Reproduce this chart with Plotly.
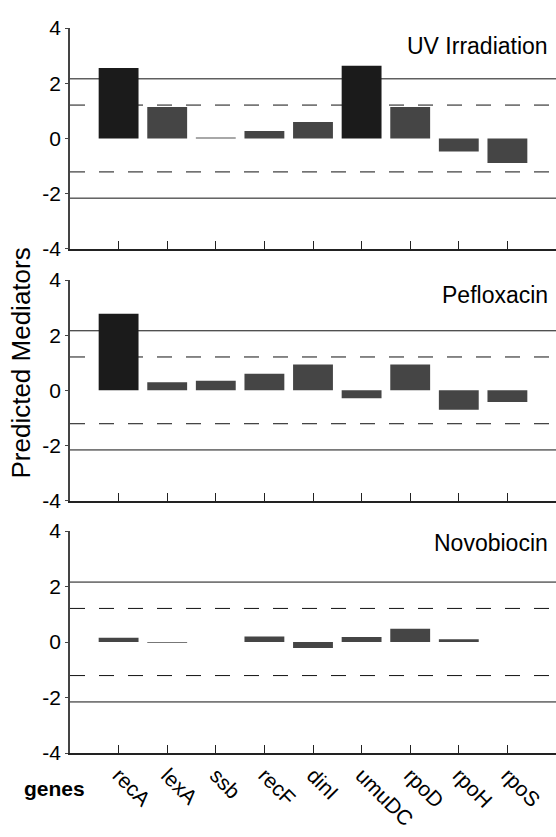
import plotly.graph_objects as go

# ---------------- data ----------------
genes = ["recA", "lexA", "ssb", "recF", "dinI", "umuDC", "rpoD", "rpoH", "rpoS"]
panel_titles = ["UV Irradiation", "Pefloxacin", "Novobiocin"]
uv_values = [2.55, 1.14, 0.04, 0.27, 0.6, 2.63, 1.14, -0.47, -0.89]
pefloxacin_values = [2.78, 0.29, 0.35, 0.6, 0.94, -0.29, 0.94, -0.70, -0.42]
novobiocin_values = [0.15, -0.03, 0.0, 0.2, -0.22, 0.18, 0.48, 0.1, 0.0]
solid_threshold = 2.16
dashed_threshold = 1.21
y_ticks = [-4, -2, 0, 2, 4]
y_title = "Predicted Mediators"
x_title = "genes"

# ---------------- styles ----------------
DARK = "#1b1b1b"
MED = "#454545"
LIGHT = "#a8a8a8"
uv_colors = [DARK, MED, LIGHT, MED, MED, DARK, MED, MED, MED]
pef_colors = [DARK] + [MED] * 8
nov_colors = [MED, "#777777", MED, MED, MED, MED, MED, MED, MED]

FONT = "Liberation Sans, Arial, sans-serif"
series = [uv_values, pefloxacin_values, novobiocin_values]
colors = [uv_colors, pef_colors, nov_colors]
domains = [[0.6952, 1.0], [0.3480, 0.6524], [0.0, 0.3062]]
title_pos = [3.34, 3.44, 3.55]

fig = go.Figure()
for i, (vals, cols) in enumerate(zip(series, colors)):
    n = "" if i == 0 else str(i + 1)
    fig.add_trace(go.Bar(
        x=genes, y=vals, width=0.82,
        marker=dict(color=cols, line=dict(width=0)),
        xaxis="x" + n, yaxis="y" + n, showlegend=False, hoverinfo="skip",
    ))

layout = dict(
    width=556, height=837,
    margin=dict(l=70, r=0, t=28, b=84),
    paper_bgcolor="white", plot_bgcolor="white",
    font=dict(family=FONT, color="black"),
    shapes=[], annotations=[],
)

for i in range(3):
    n = "" if i == 0 else str(i + 1)
    xa = dict(
        domain=[0, 1], anchor="y" + n, type="category",
        categoryorder="array", categoryarray=genes,
        range=[-1, 9], showgrid=False, zeroline=False,
        showline=True, linecolor="#222222", linewidth=2,
        ticks="inside", ticklen=8, tickwidth=1, tickcolor="#222222",
        showticklabels=(i == 2), tickangle=45,
        tickfont=dict(size=21, family=FONT, color="black"),
    )
    ya = dict(
        domain=domains[i], anchor="x" + n, range=[-4, 4],
        tickvals=y_ticks, ticktext=[str(v) for v in y_ticks],
        showgrid=False, zeroline=False,
        showline=True, linecolor="#444444", linewidth=1.5,
        ticks="outside", ticklen=3, tickwidth=1, tickcolor="#444444",
        tickfont=dict(size=21, family=FONT, color="black"),
    )
    layout["xaxis" + n] = xa
    layout["yaxis" + n] = ya
    for v, dash in [(solid_threshold, "solid"), (-solid_threshold, "solid"),
                    (dashed_threshold, "15px,14px"), (-dashed_threshold, "15px,14px")]:
        layout["shapes"].append(dict(
            type="line", xref="x" + n + " domain", yref="y" + n,
            x0=0, x1=1, y0=v, y1=v, layer="below",
            line=dict(color="#111111", width=1, dash=dash),
        ))
    layout["annotations"].append(dict(
        text=panel_titles[i], xref="x" + n + " domain", yref="y" + n,
        x=0.988, y=title_pos[i], xanchor="right", yanchor="middle", showarrow=False,
        font=dict(size=23, family=FONT, color="black"),
    ))

layout["annotations"].append(dict(
    text=y_title, xref="paper", yref="paper", x=-0.1008, y=0.5372,
    textangle=-90, xanchor="center", yanchor="middle", showarrow=False,
    font=dict(size=26, family=FONT, color="black"),
))
layout["annotations"].append(dict(
    text="<b>" + x_title + "</b>", xref="paper", yref="paper", x=0.0356, y=-0.0483,
    xanchor="right", yanchor="middle", showarrow=False,
    font=dict(size=21, family=FONT, color="black"),
))

fig.update_layout(**layout)
fig.write_html(
    "out.html",
    config={"displayModeBar": False},
    post_script="document.body.style.margin='0';document.body.style.overflow='hidden';",
)
